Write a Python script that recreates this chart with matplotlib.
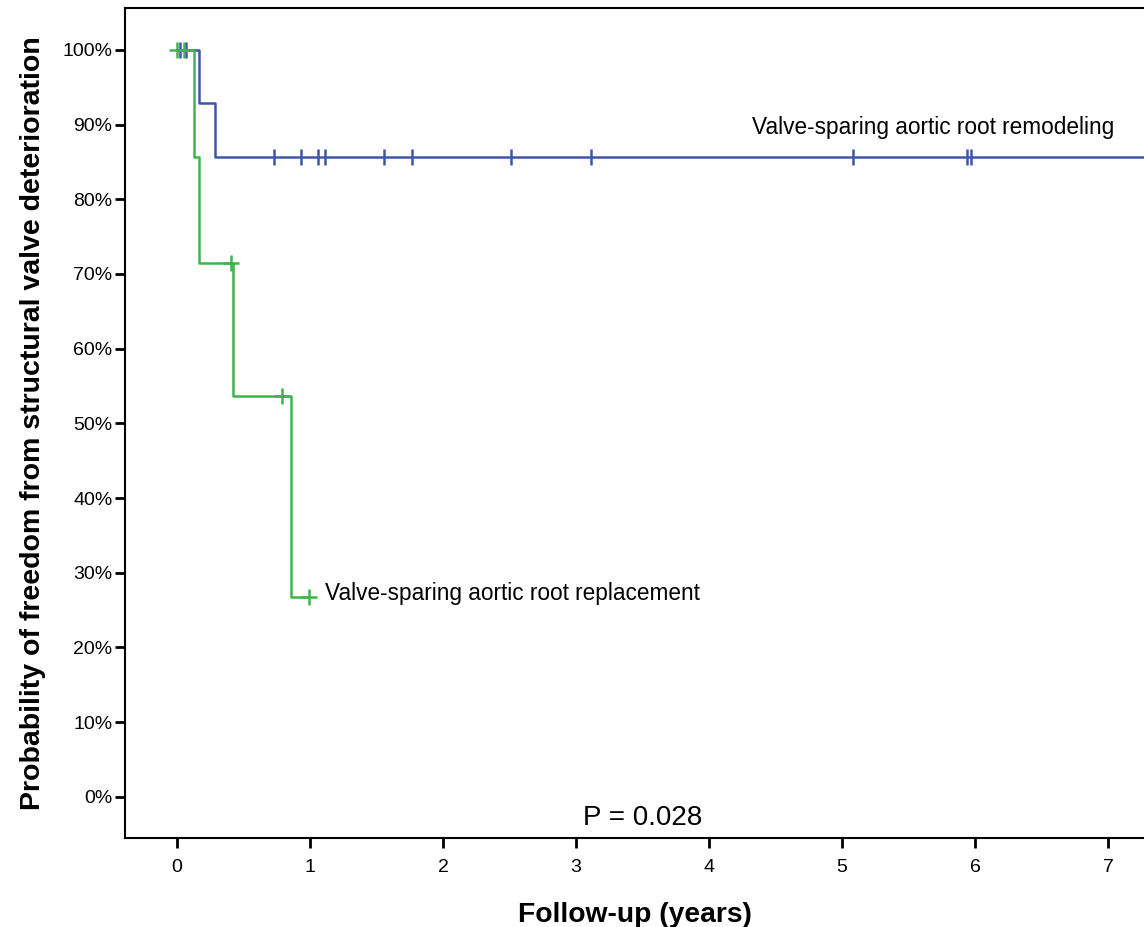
import matplotlib
matplotlib.use("Agg")
import matplotlib.pyplot as plt

plt.rcParams['font.family'] = ['Liberation Sans', 'DejaVu Sans']

# Kaplan-Meier step data (years, survival %)
remodel_t = [0.0, 0.17, 0.29, 7.3]
remodel_s = [100.0, 92.9, 85.7, 85.7]
remodel_cens_t = [0.02, 0.07, 0.73, 0.93, 1.06, 1.11, 1.56, 1.77, 2.51, 3.11, 5.08, 5.94, 5.97]
remodel_cens_s = [100, 100, 85.7, 85.7, 85.7, 85.7, 85.7, 85.7, 85.7, 85.7, 85.7, 85.7, 85.7]

replace_t = [0.0, 0.13, 0.17, 0.42, 0.86, 0.99]
replace_s = [100.0, 85.7, 71.4, 53.6, 26.8, 26.8]
replace_cens_t = [0.0, 0.05, 0.41, 0.79, 0.99]
replace_cens_s = [100, 100, 71.4, 53.6, 26.8]

xticks = [0, 1, 2, 3, 4, 5, 6, 7]
yticks = [0, 10, 20, 30, 40, 50, 60, 70, 80, 90, 100]

blue = '#3f56a8'
green = '#3db54a'

fig = plt.figure(figsize=(11.44, 9.27), dpi=100)
ax = fig.add_axes([125/1144, 89/927, 1 - 125/1144, 830/927])

ax.step(remodel_t, remodel_s, where='post', color=blue, lw=1.8)
ax.plot(remodel_cens_t, remodel_cens_s, ls='none', marker='|', ms=11, mew=1.8, color=blue)
ax.step(replace_t, replace_s, where='post', color=green, lw=1.8)
ax.plot(replace_cens_t, replace_cens_s, ls='none', marker='+', ms=11, mew=1.8, color=green)

ax.set_xlim(-0.39, 7.27)
ax.set_ylim(-5.5, 105.6)
ax.set_xticks(xticks)
ax.set_xticklabels([str(v) for v in xticks])
ax.set_yticks(yticks)
ax.set_yticklabels([f'{v}%' for v in yticks])
ax.tick_params(direction='out', length=7, width=2, labelsize=14)
ax.tick_params(axis='y', pad=2)
ax.tick_params(axis='x', pad=8)
for side in ['left', 'bottom', 'top']:
    ax.spines[side].set_linewidth(1.5)
ax.spines['right'].set_visible(False)

ax.text(1.11, 27.2, 'Valve-sparing aortic root replacement', fontsize=16.3, va='center', ha='left')
ax.text(4.32, 89.6, 'Valve-sparing aortic root remodeling', fontsize=16.3, va='center', ha='left')
ax.text(3.5, -2.8, 'P = 0.028', fontsize=20, va='center', ha='center')

ax.set_xlabel('Follow-up (years)', fontsize=20.3, fontweight='bold', labelpad=19)
ax.set_ylabel('Probability of freedom from structural valve deterioration', fontsize=20.5, fontweight='bold', labelpad=12)

fig.savefig('out.png', dpi=100)
